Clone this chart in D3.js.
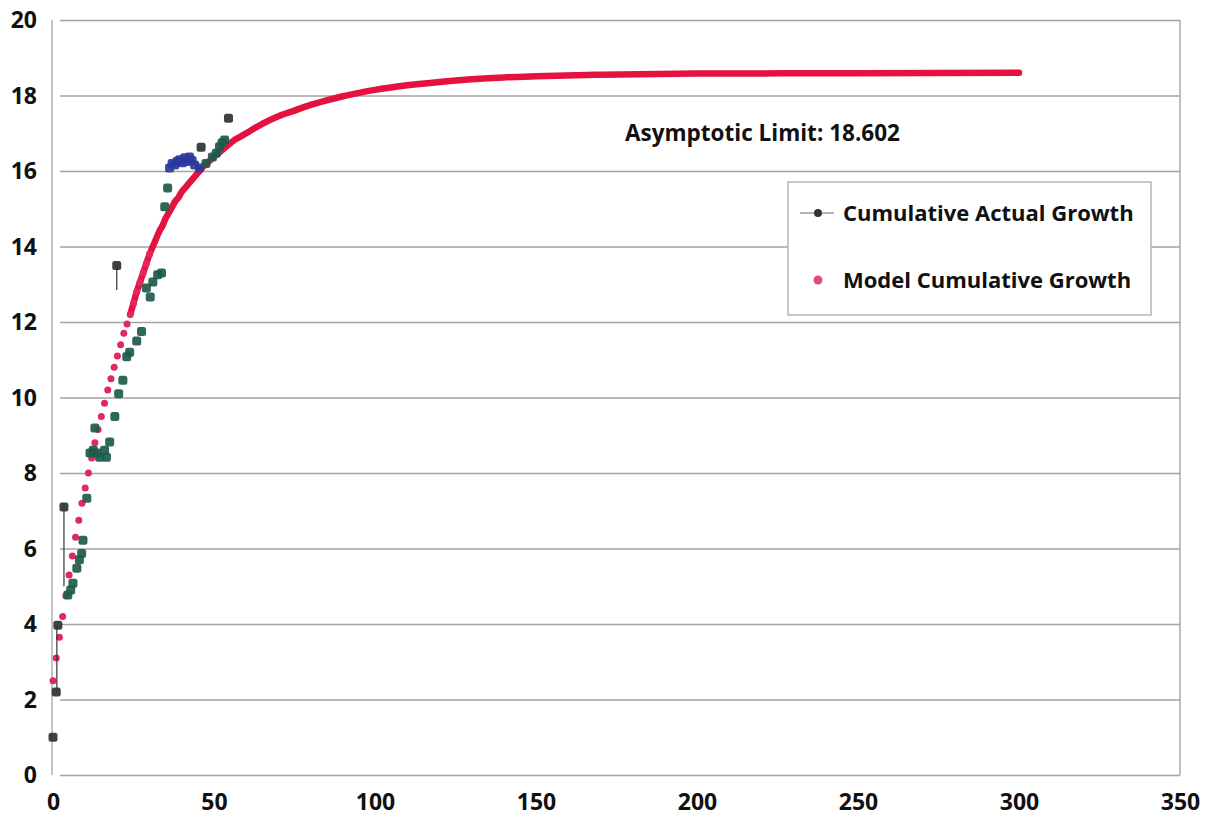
<!DOCTYPE html>
<html>
<head>
<meta charset="utf-8">
<script src="https://cdn.jsdelivr.net/npm/d3@7"></script>
<style>
  html, body { margin: 0; padding: 0; background: #ffffff; }
  svg { display: block; }
  text { font-family: "Open Sans", "DejaVu Sans", sans-serif; font-weight: 700; fill: #111; }
</style>
</head>
<body>
<svg id="chart" width="1212" height="823"></svg>
<script>
// ---------- data ----------
const xTicks = [0, 50, 100, 150, 200, 250, 300, 350];
const yTicks = [0, 2, 4, 6, 8, 10, 12, 14, 16, 18, 20];

// Model cumulative growth
const modelX = [0,1,2,3,4,5,6,7,8,9,10,11,12,13,14,15,16,17,18,19,20,21,22,23,24,25,26,27,28,29,30,
  31,32,33,34,35,36,37,38,39,40,41,42,43,44,45,46,47,48,49,50,52,54,56,58,60,65,70,75,80,85,90,95,100,
  110,120,130,140,150,170,200,250,300];
const modelY = [2.5,3.1,3.65,4.2,4.75,5.3,5.8,6.3,6.75,7.2,7.6,8.0,8.4,8.8,9.15,9.5,9.85,10.2,10.5,10.8,11.1,
  11.4,11.7,11.95,12.2,12.5,12.8,13.05,13.3,13.55,13.8,14.0,14.2,14.4,14.55,14.75,14.9,15.05,15.2,15.3,15.45,
  15.55,15.65,15.75,15.85,15.95,16.05,16.15,16.22,16.3,16.38,16.52,16.66,16.8,16.9,17.0,17.25,17.45,17.6,17.75,17.87,
  17.98,18.07,18.15,18.27,18.36,18.43,18.48,18.51,18.55,18.58,18.59,18.6];

// Cumulative actual growth; group: 0 teal, 1 blue, 2 dark
const actualX = [0,1,1.5,3.4,4.6,5.5,6.2,7.4,8.2,8.9,9.3,10.5,11.5,12.5,13,13.6,14.5,16,16.6,17.6,19.2,19.8,
  20.4,21.7,22.9,23.8,26,27.5,29,30.2,31,32.5,33.7,34.7,35.6,
  36.2,37,37.8,38.5,39.3,40.2,40.9,41.6,42.4,43.2,44,45.5,
  46,47.5,49.5,50.7,51.7,52.5,53.3,54.5];
const actualY = [1.0,2.2,3.97,7.1,4.77,4.9,5.08,5.48,5.7,5.87,6.22,7.33,8.53,8.6,9.19,8.53,8.42,8.6,8.42,8.82,9.5,13.5,
  10.1,10.46,11.08,11.2,11.5,11.75,12.9,12.66,13.06,13.25,13.3,15.05,15.55,
  16.08,16.2,16.16,16.25,16.3,16.22,16.35,16.25,16.37,16.28,16.16,16.08,
  16.63,16.2,16.37,16.47,16.64,16.75,16.82,17.4];
const actualGroup = [2,2,2,2,0,0,0,0,0,0,0,0,0,0,0,0,0,0,0,0,0,2,
  0,0,0,0,0,0,0,0,0,0,0,0,0,
  1,1,1,1,1,1,1,1,1,1,1,1,
  2,0,0,0,0,0,0,2];

// vertical drop lines seen on a few actual points
const dropX = [1.2, 3.4, 19.8];
const dropTop = [3.97, 7.1, 13.5];
const dropBottom = [2.2, 5.0, 12.85];

const seriesNames = ["Cumulative Actual Growth", "Model Cumulative Growth"];
const annotationText = "Asymptotic Limit: 18.602";

// ---------- drawing ----------
const svg = d3.select("#chart");
const pL = 53, pR = 1180, pT = 20, pB = 775;
const x = d3.scaleLinear().domain([0, 350]).range([pL, pR]);
const y = d3.scaleLinear().domain([0, 20]).range([pB, pT]);

// gridlines via axis
const gy = svg.append("g").attr("transform", `translate(${pR},0)`)
  .call(d3.axisLeft(y).tickValues(yTicks).tickSize(pR - 60).tickFormat(""));
gy.select(".domain").remove();
gy.selectAll(".tick line").attr("stroke", "#a3a3a3").attr("stroke-width", 1.5);

// left axis line and right border
svg.append("line").attr("x1", pL - 1).attr("x2", pL - 1).attr("y1", pT).attr("y2", pB)
  .attr("stroke", "#b0b0b0").attr("stroke-width", 1.5);
svg.append("line").attr("x1", pR).attr("x2", pR).attr("y1", pT).attr("y2", pB)
  .attr("stroke", "#a8a8a8").attr("stroke-width", 1.5);

// y tick labels
const ly = svg.append("g").attr("transform", `translate(37,0)`)
  .call(d3.axisLeft(y).tickValues(yTicks).tickSize(0).tickPadding(0));
ly.select(".domain").remove();
ly.selectAll("text").attr("font-size", 23).attr("font-family", "'Open Sans', sans-serif")
  .attr("font-weight", 700).attr("fill", "#111").attr("dy", "0.34em");

// x tick labels
const lx = svg.append("g").attr("transform", `translate(0,${pB})`)
  .call(d3.axisBottom(x).tickValues(xTicks).tickSize(0).tickPadding(19));
lx.select(".domain").remove();
lx.selectAll("text").attr("font-size", 23).attr("font-family", "'Open Sans', sans-serif")
  .attr("font-weight", 700).attr("fill", "#111");

// model line (dense part) and markers
const model = modelX.map((v, i) => ({ x: v, y: modelY[i] }));
const line = d3.line().x(d => x(d.x)).y(d => y(d.y)).curve(d3.curveMonotoneX);
svg.append("path").datum(model.filter(d => d.x >= 24))
  .attr("d", line).attr("fill", "none").attr("stroke", "#e5123f").attr("stroke-width", 6.5)
  .attr("stroke-linecap", "round");
svg.append("g").selectAll("circle").data(model.filter(d => d.x <= 30)).join("circle")
  .attr("cx", d => x(d.x)).attr("cy", d => y(d.y)).attr("r", 3.5)
  .attr("fill", "#e2285f");

// drop lines
svg.append("g").selectAll("line").data(dropX).join("line")
  .attr("x1", d => x(d)).attr("x2", d => x(d))
  .attr("y1", (d, i) => y(dropTop[i])).attr("y2", (d, i) => y(dropBottom[i]))
  .attr("stroke", "#333").attr("stroke-width", 1.2);

// actual points
const groupColor = ["#1d5a4c", "#2b3a9e", "#2e3236"];
const actual = actualX.map((v, i) => ({ x: v, y: actualY[i], g: actualGroup[i] }));
svg.append("g").selectAll("rect").data(actual).join("rect")
  .attr("x", d => x(d.x) - 4.5).attr("y", d => y(d.y) - 4.5).attr("width", 9).attr("height", 9)
  .attr("rx", 2.5)
  .attr("fill", d => groupColor[d.g]).attr("opacity", 0.92);

// annotation
svg.append("text").attr("x", 625).attr("y", 141).attr("font-size", 22.5).text(annotationText);

// legend
const lg = svg.append("g");
lg.append("rect").attr("x", 788).attr("y", 182).attr("width", 363).attr("height", 133)
  .attr("fill", "#fff").attr("stroke", "#b5b5b5").attr("stroke-width", 1.5);
lg.append("line").attr("x1", 800).attr("x2", 834).attr("y1", 213).attr("y2", 213)
  .attr("stroke", "#9a9a9a").attr("stroke-width", 1.5);
lg.append("circle").attr("cx", 818).attr("cy", 213).attr("r", 4).attr("fill", "#333");
lg.append("circle").attr("cx", 818).attr("cy", 280).attr("r", 4.5).attr("fill", "#e2507a");
lg.selectAll("text.lab").data(seriesNames).join("text").attr("class", "lab")
  .attr("x", 843).attr("y", (d, i) => 221 + i * 67).attr("font-size", 22).text(d => d);
</script>
</body>
</html>
